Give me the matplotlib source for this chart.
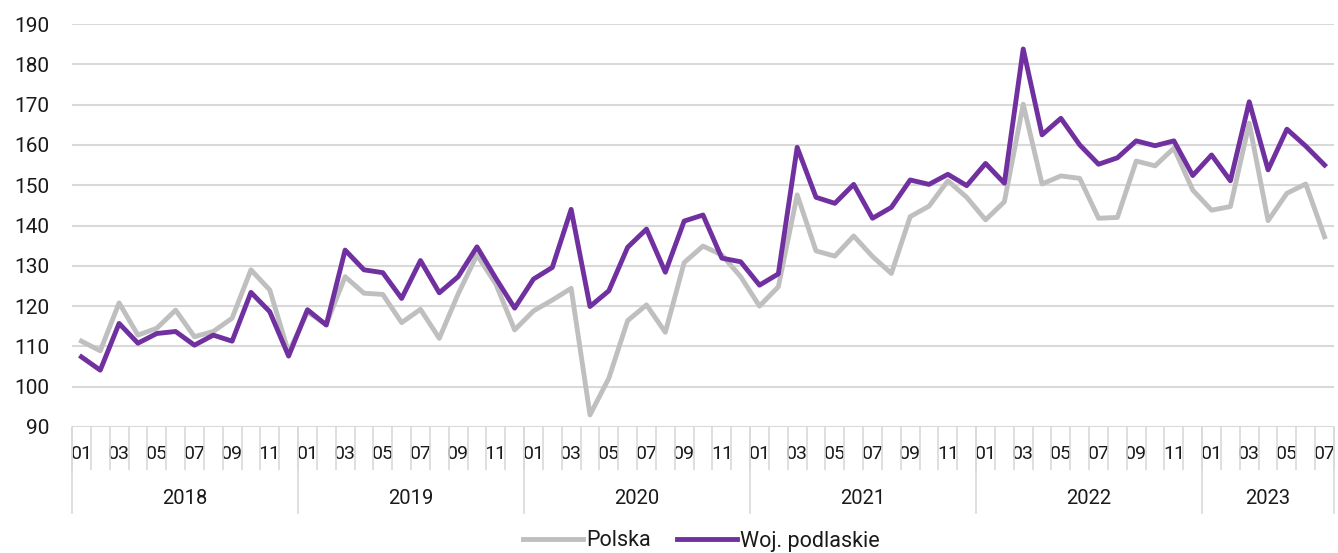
import numpy as np
import matplotlib
matplotlib.use("Agg")
import matplotlib.pyplot as plt
from matplotlib.transforms import blended_transform_factory

years = ["2018", "2019", "2020", "2021", "2022", "2023"]
months_per_year = [12, 12, 12, 12, 12, 7]

polska = [111.3, 108.9, 120.8, 112.8, 114.5, 119.0, 112.4, 113.7, 117.0, 129.0, 124.0, 108.5,
          118.5, 115.5, 127.3, 123.2, 122.9, 115.9, 119.2, 112.0, 123.0, 132.7, 125.5, 114.1,
          118.8, 121.5, 124.4, 93.0, 102.1, 116.4, 120.3, 113.5, 130.8, 134.9, 132.7, 127.3,
          120.0, 124.8, 147.6, 133.7, 132.4, 137.4, 132.3, 128.1, 142.2, 144.8, 151.1, 147.0,
          141.4, 145.9, 170.1, 150.3, 152.3, 151.7, 141.8, 142.0, 156.0, 154.8, 159.2, 148.8,
          143.8, 144.7, 165.4, 141.2, 148.0, 150.3, 137.2]
podlaskie = [107.4, 104.1, 115.7, 110.8, 113.2, 113.7, 110.3, 112.8, 111.3, 123.4, 118.6, 107.6,
             119.1, 115.3, 133.9, 129.0, 128.3, 121.9, 131.3, 123.3, 127.3, 134.7, 126.9, 119.5,
             126.7, 129.6, 144.0, 119.9, 123.8, 134.6, 139.1, 128.4, 141.1, 142.6, 131.9, 131.0,
             125.2, 128.0, 159.4, 147.0, 145.5, 150.2, 141.8, 144.5, 151.3, 150.2, 152.7, 149.9,
             155.4, 150.5, 183.8, 162.5, 166.6, 160.0, 155.2, 156.8, 161.0, 159.8, 161.0, 152.4,
             157.5, 151.1, 170.7, 153.8, 163.9, 159.7, 155.0]

month_labels = []
for n in months_per_year:
    month_labels += ["%02d" % (m + 1) for m in range(n)]

GRID = "#D9D9D9"
TXT = "#1a1a1a"

plt.rcParams['font.family'] = ['Roboto', 'DejaVu Sans']

fig = plt.figure(figsize=(13.38, 5.53), dpi=100)
ax = fig.add_axes([72/1338, 1 - 427/553, (1334-72)/1338, (427-24)/553])

x = np.arange(len(polska))
ax.plot(x, polska, color="#BFBFBF", lw=3.5, solid_joinstyle="round", label="Polska")
ax.plot(x, podlaskie, color="#7030A0", lw=3.5, solid_joinstyle="round", label="Woj. podlaskie")

ax.set_ylim(90, 190)
ax.set_xlim(-0.5, len(x) - 0.5)
ax.set_yticks(np.arange(90, 191, 10))
ax.yaxis.grid(True, color=GRID, lw=1.5)
ax.set_axisbelow(True)
for s in ax.spines.values():
    s.set_visible(False)
ax.tick_params(axis="y", length=0, labelsize=15, colors=TXT, pad=16)

odd = [i for i in x if i % 2 == 0]
ax.set_xticks(odd)
ax.set_xticklabels([month_labels[i] for i in odd])
ax.tick_params(axis="x", which="major", length=0, labelsize=14, colors=TXT, pad=13)
ax.set_xticks(np.arange(-0.5, len(x), 1.0), minor=True)
ax.tick_params(axis="x", which="minor", length=31, color=GRID, width=1.2)

trans = blended_transform_factory(ax.transData, ax.transAxes)
start = 0
for yr, n in zip(years, months_per_year):
    b = start - 0.5
    ax.plot([b, b], [0, -86/403], transform=trans, color=GRID, lw=1.2, clip_on=False)
    ax.text(start + (n - 1) / 2, -71.5/403, yr, transform=trans, ha="center", va="center",
            fontsize=14.5, color=TXT)
    start += n
ax.plot([start - 0.5, start - 0.5], [0, -86/403], transform=trans, color=GRID, lw=1.2, clip_on=False)

fig.legend(loc="center", bbox_to_anchor=(0.524, 12/553), ncol=2, frameon=False,
           fontsize=15.5, handlelength=2.8, handletextpad=0.15, columnspacing=1.2,
           labelcolor=TXT)

fig.savefig("out.png", dpi=100)
